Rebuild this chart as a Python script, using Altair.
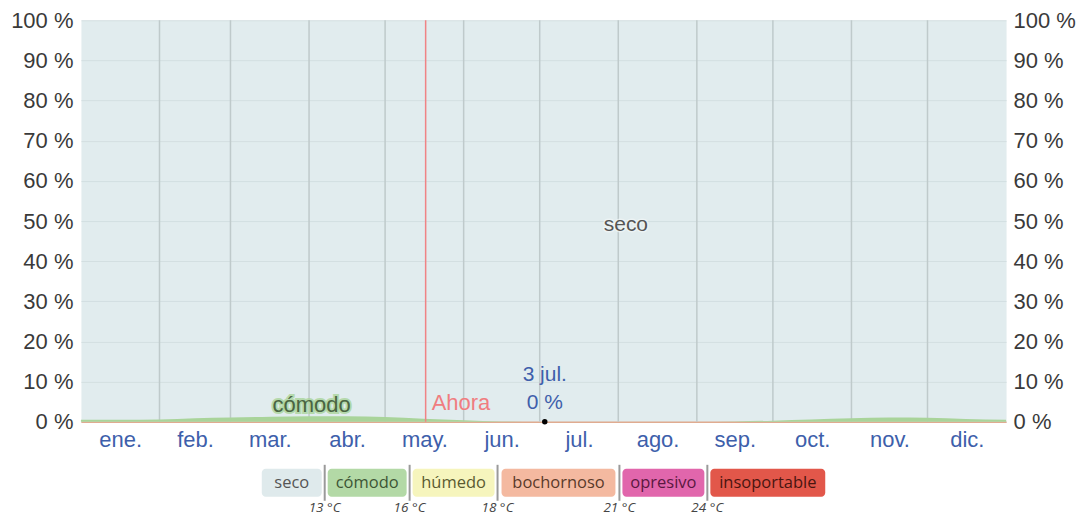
import altair as alt
import pandas as pd

# ---------------- data ----------------
months = ["ene.", "feb.", "mar.", "abr.", "may.", "jun.", "jul.", "ago.", "sep.", "oct.", "nov.", "dic."]
month_days = [31, 28, 31, 30, 31, 30, 31, 31, 30, 31, 30, 31]

# share of time "cómodo" (%) across the year (day of year); the rest is "seco"
comodo_day = [0, 15, 31, 45, 59, 75, 90, 105, 120, 135, 151, 166, 181, 212, 243, 258, 273, 288, 304, 319, 334, 349, 365]
comodo_pct = [0.5, 0.5, 0.6, 0.9, 1.1, 1.3, 1.4, 1.4, 1.2, 0.8, 0.4, 0.1, 0.0, 0.0, 0.0, 0.1, 0.3, 0.6, 0.9, 1.1, 1.0, 0.7, 0.5]

now_day = 136          # "Ahora"
sel_day = 183          # 3 jul.
sel_label = "3 jul."
sel_value = 0

y_ticks = [0, 10, 20, 30, 40, 50, 60, 70, 80, 90, 100]

legend_names = ["seco", "cómodo", "húmedo", "bochornoso", "opresivo", "insoportable"]
legend_colors = ["#dfeaec", "#b3d9a6", "#f6f5bd", "#f4b9a0", "#e166ac", "#e2574a"]
legend_text_colors = ["#555555", "#3d5535", "#5a5a30", "#5a3a2a", "#5a1840", "#4a1510"]
legend_temps = ["13 °C", "16 °C", "18 °C", "21 °C", "24 °C"]

# legend layout (page pixels)
legend_x0 = [262, 328, 413, 502, 623, 711]
legend_x1 = [322, 407, 495, 616, 705, 826]
legend_sep = [325, 410, 498, 620, 708]

# ---------------- derived tables ----------------
starts = [sum(month_days[:i]) for i in range(12)]
mids = [s + d / 2 for s, d in zip(starts, month_days)]
bounds = starts[1:]

df = pd.DataFrame({"day": comodo_day, "comodo": comodo_pct})
df_bounds = pd.DataFrame({"day": bounds})
df_now = pd.DataFrame({"day": [now_day], "v": [4.7], "t": ["Ahora"]})
df_sel = pd.DataFrame({"day": [sel_day, sel_day], "v": [11.7, 4.7], "t": [sel_label, f"{sel_value} %"]})
df_dot = pd.DataFrame({"day": [sel_day], "v": [sel_value]})
df_seco = pd.DataFrame({"day": [215], "v": [49], "t": ["seco"]})
df_comodo_lbl = pd.DataFrame({"day": [91], "v": [4.2], "t": ["cómodo"]})

FONT = "Liberation Sans"
LFONT = "Open Sans"
month_arr = "[" + ",".join(f"'{m}'" for m in months) + "]"

xscale = alt.Scale(domain=[0, 365], nice=False, zero=False)
yscale = alt.Scale(domain=[0, 100], nice=False)

x_axis = alt.Axis(values=mids, labelExpr=f"{month_arr}[floor(datum.value/30.42)]",
                  title=None, grid=False, ticks=False, domainColor="#e0ab90", domainWidth=1.5,
                  labelFontSize=22, labelColor="#3e5fab", labelPadding=8, labelFont=FONT)


def X(field="day"):
    return alt.X(f"{field}:Q", scale=xscale, axis=x_axis)


def Ynone(field):
    return alt.Y(f"{field}:Q", scale=yscale, axis=None)


left_axis = alt.Axis(values=y_ticks, labelExpr="datum.value + ' %'", title=None, ticks=False,
                     domain=False, grid=True, gridColor="#d3dfe1", gridWidth=1,
                     labelFontSize=22, labelColor="#3a3a3a", labelPadding=8, labelFont=FONT)
right_axis = alt.Axis(values=y_ticks, labelExpr="datum.value + ' %'", title=None, ticks=False,
                      domain=False, grid=False, orient="right",
                      labelFontSize=22, labelColor="#3a3a3a", labelPadding=7, labelFont=FONT)

area = alt.Chart(df).mark_area(color="#a9d49a", interpolate="monotone").encode(
    x=X(), y=alt.Y("comodo:Q", scale=yscale, axis=left_axis))

right = alt.Chart(df).mark_point(opacity=0).encode(
    x=X(), y=alt.Y("comodo:Q", scale=yscale, axis=right_axis))

vgrid = alt.Chart(df_bounds).mark_rule(color="#bfcacb", strokeWidth=1.5).encode(x=X())

now_rule = alt.Chart(df_now).mark_rule(color="#f08385", strokeWidth=1.5).encode(x=X())
now_text = alt.Chart(df_now).mark_text(align="left", dx=6, fontSize=22, color="#f07d80", font=FONT).encode(
    x=X(), y=Ynone("v"), text="t:N")

sel_text = alt.Chart(df_sel).mark_text(align="center", fontSize=21, color="#3f5fab", font=FONT).encode(
    x=X(), y=Ynone("v"), text="t:N")
dot = alt.Chart(df_dot).mark_point(filled=True, color="black", size=30, opacity=1).encode(
    x=X(), y=Ynone("v"))

seco_halo = alt.Chart(df_seco).mark_text(fontSize=21, stroke="#f2f7f7", strokeWidth=3, strokeOpacity=0.7,
                                         color="#f2f7f7", font=FONT).encode(x=X(), y=Ynone("v"), text="t:N")
seco_txt = alt.Chart(df_seco).mark_text(fontSize=21, color="#555555", font=FONT).encode(
    x=X(), y=Ynone("v"), text="t:N")

com_halo = alt.Chart(df_comodo_lbl).mark_text(fontSize=22, stroke="#a9d49a", strokeWidth=4, strokeOpacity=0.8,
                                              color="#a9d49a", font=FONT).encode(x=X(), y=Ynone("v"), text="t:N")
com_txt = alt.Chart(df_comodo_lbl).mark_text(fontSize=22, color="#4a6443", font=FONT).encode(
    x=X(), y=Ynone("v"), text="t:N")

main = alt.layer(
    vgrid, area, right, now_rule, seco_halo, seco_txt, com_halo, com_txt, now_text, sel_text, dot
).resolve_axis(y="independent").properties(
    width=926, height=402,
    view=alt.ViewBackground(fill="#e1ecee", stroke="transparent"))

# ---------------- legend ----------------
df_leg = pd.DataFrame({"name": legend_names, "color": legend_colors, "tc": legend_text_colors,
                       "x0": legend_x0, "x1": legend_x1})
df_leg["xm"] = (df_leg["x0"] + df_leg["x1"]) / 2
df_sep = pd.DataFrame({"x": legend_sep, "t": legend_temps})

lx = alt.Scale(domain=[81, 1007], nice=False, zero=False)
ly = alt.Scale(domain=[0, 46], reverse=True, nice=False, zero=False)

chips = alt.Chart(df_leg).mark_bar(cornerRadius=4).encode(
    x=alt.X("x0:Q", scale=lx, axis=None), x2="x1:Q",
    y=alt.Y(datum=6, scale=ly, axis=None), y2=alt.Y2(datum=34),
    color=alt.Color("color:N", scale=None, legend=None))
chip_txt = alt.Chart(df_leg).mark_text(fontSize=16.5, font=LFONT, baseline="middle").encode(
    x=alt.X("xm:Q", scale=lx, axis=None), y=alt.Y(datum=20, scale=ly, axis=None),
    text="name:N", color=alt.Color("tc:N", scale=None, legend=None))
seps = alt.Chart(df_sep).mark_rule(color="#9a9a9a", strokeWidth=2).encode(
    x=alt.X("x:Q", scale=lx, axis=None), y=alt.Y(datum=2, scale=ly, axis=None), y2=alt.Y2(datum=38))
temps = alt.Chart(df_sep).mark_text(fontSize=13.5, fontStyle="italic", font=LFONT, color="#444444",
                                    baseline="middle").encode(
    x=alt.X("x:Q", scale=lx, axis=None), y=alt.Y(datum=45, scale=ly, axis=None), text="t:N")

legend = alt.layer(chips, chip_txt, seps, temps).properties(
    width=926, height=46, view=alt.ViewBackground(stroke="transparent"))

chart = alt.vconcat(main, legend, spacing=10).properties(
    padding={"left": 2, "top": 0, "right": 5, "bottom": 0}
).configure(font=FONT).configure_view(stroke="transparent")

chart.save("out.html", embed_options={"renderer": "svg", "actions": False})
